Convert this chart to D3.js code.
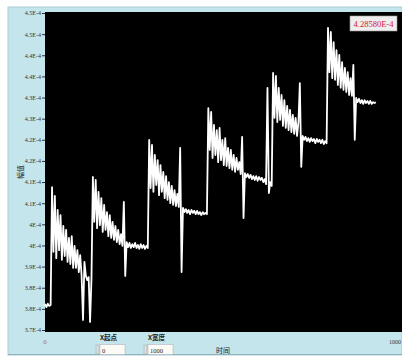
<!DOCTYPE html>
<html>
<head>
<meta charset="utf-8">
<script src="https://cdn.jsdelivr.net/npm/d3@7"></script>
<style>
  body { margin: 0; background: #fff; }
  svg { display: block; }
</style>
</head>
<body>
<div id="chart"></div>
<script>
// amplitude values are in units of 1E-4, one sample every 4 time units
let sampleStep = 4;

let flatStart = [3.812, 3.804, 3.812, 3.807, 3.809];
let pulse1 = [4.088, 3.935, 4.067, 3.920, 4.034, 3.939, 4.022, 3.916, 3.996, 3.925,
              3.987, 3.911, 3.968, 3.906, 3.972, 3.897, 3.949, 3.897, 3.939, 3.887,
              3.927, 3.878, 3.774, 3.911,
              3.878, 3.868, 3.875, 3.769, 3.871];
let pulse2 = [4.112, 4.006, 4.105, 3.991, 4.077, 3.998, 4.062, 3.982, 4.046, 3.987,
              4.029, 3.972, 4.022, 3.968, 4.006, 3.963, 3.996, 3.958, 3.987, 3.953,
              3.977, 3.949, 4.053, 3.878,
              3.958, 3.946, 3.956, 3.944, 3.953, 3.946, 3.956, 3.944, 3.951, 3.942,
              3.953, 3.944, 3.951, 3.942, 3.949, 3.944];
let pulse3 = [4.200, 4.086, 4.188, 4.077, 4.164, 4.093, 4.152, 4.069, 4.140, 4.077,
              4.124, 4.062, 4.114, 4.058, 4.100, 4.050, 4.091, 4.046, 4.081, 4.043,
              4.072, 4.041, 4.181, 3.887,
              4.039, 4.029, 4.036, 4.027, 4.034, 4.024, 4.034, 4.027, 4.032, 4.024,
              4.032, 4.024, 4.029, 4.022, 4.029, 4.024, 4.027, 4.024];
let pulse4 = [4.275, 4.176, 4.266, 4.157, 4.235, 4.164, 4.223, 4.147, 4.228, 4.152,
              4.200, 4.140, 4.204, 4.138, 4.181, 4.133, 4.176, 4.129, 4.164, 4.124,
              4.157, 4.129, 4.147, 4.119, 4.207, 4.015,
              4.121, 4.112, 4.119, 4.110, 4.117, 4.107, 4.114, 4.105, 4.114, 4.103,
              4.112, 4.105, 4.110, 4.100, 4.107, 4.095, 4.323, 4.074, 4.100, 4.091];
let pulse5 = [4.358, 4.252, 4.351, 4.242, 4.323, 4.247, 4.306, 4.233, 4.294, 4.228,
              4.280, 4.223, 4.271, 4.218, 4.259, 4.214, 4.252, 4.209, 4.242, 4.334,
              4.136,
              4.209, 4.200, 4.207, 4.197, 4.204, 4.195, 4.204, 4.197, 4.202, 4.192,
              4.202, 4.195, 4.200, 4.192, 4.200, 4.190, 4.197, 4.192];
let pulse6 = [4.465, 4.360, 4.455, 4.346, 4.431, 4.342, 4.412, 4.330, 4.401, 4.323,
              4.384, 4.318, 4.370, 4.313, 4.360, 4.306, 4.346, 4.304, 4.377, 4.200,
              4.299, 4.289, 4.297, 4.287, 4.294, 4.285, 4.294, 4.287, 4.292, 4.285,
              4.292, 4.285, 4.289, 4.287, 4.289];

let signal = [].concat(flatStart, pulse1, pulse2, pulse3, pulse4, pulse5, pulse6);

let yTickValues = [3.75, 3.80, 3.85, 3.90, 3.95, 4.00, 4.05, 4.10,
                   4.15, 4.20, 4.25, 4.30, 4.35, 4.40, 4.45, 4.50];
let yTickLabels = ["3.7E-4", "3.8E-4", "3.8E-4", "3.9E-4", "4E-4", "4E-4", "4.1E-4", "4.1E-4",
                   "4.2E-4", "4.2E-4", "4.3E-4", "4.3E-4", "4.4E-4", "4.4E-4", "4.5E-4", "4.5E-4"];
let xDomain = [0, 1000];
let readout = "4.28580E-4";
let xStart = "0";
let xWidth = "1000";

let width = 402;
let height = 356;

let svg = d3.select("#chart").append("svg")
    .attr("width", width)
    .attr("height", height);

// panel background
svg.append("rect").attr("x", 8).attr("y", 7).attr("width", width - 8).attr("height", height - 8)
    .attr("fill", "#c3e5eb").attr("stroke", "#a9cdd4").attr("stroke-width", 1);
svg.append("line").attr("x1", 8).attr("x2", width).attr("y1", 354.5).attr("y2", 354.5)
    .attr("stroke", "#8fb4bb");

// plot area
svg.append("rect").attr("x", 45).attr("y", 12).attr("width", width - 45).attr("height", 320)
    .attr("fill", "#000");

let xScale = d3.scaleLinear().domain(xDomain).range([45, 397]);
let yScale = d3.scaleLinear().domain([3.75, 4.50]).range([330, 13]);

let yAxis = d3.axisLeft(yScale)
    .tickValues(yTickValues)
    .tickFormat((d, i) => yTickLabels[i])
    .tickSize(3)
    .tickPadding(1);

let yg = svg.append("g").attr("transform", "translate(45,0)").call(yAxis);
yg.select(".domain").remove();
yg.selectAll("line").attr("stroke", "#333");
yg.selectAll("text")
    .attr("font-family", "Liberation Serif")
    .attr("font-size", 6)
    .attr("fill", "#333");

let lineGenerator = d3.line()
    .x((d, i) => xScale(i * sampleStep))
    .y((d) => yScale(d));

svg.append("path")
    .datum(signal)
    .attr("d", lineGenerator)
    .attr("fill", "none")
    .attr("stroke", "#fff")
    .attr("stroke-width", 1.8)
    .attr("stroke-linejoin", "round");

// axis titles and end labels
svg.append("text").attr("transform", "translate(23,172) rotate(-90)")
    .attr("text-anchor", "middle")
    .attr("font-family", "Noto Sans CJK SC").attr("font-size", 7).attr("fill", "#222")
    .text("幅值");
svg.append("text").attr("x", xScale(xDomain[0])).attr("y", 344)
    .attr("text-anchor", "middle")
    .attr("font-family", "Liberation Serif").attr("font-size", 7).attr("fill", "#b07a3a")
    .text(xDomain[0]);
svg.append("text").attr("x", width - 1).attr("y", 344)
    .attr("text-anchor", "end")
    .attr("font-family", "Liberation Serif").attr("font-size", 6).attr("fill", "#333")
    .text(xDomain[1]);
svg.append("text").attr("x", 223).attr("y", 353)
    .attr("text-anchor", "middle")
    .attr("font-family", "Noto Sans CJK SC").attr("font-size", 7).attr("fill", "#222")
    .text("时间");

// x start / width controls
let controls = [
    {label: "X起点", value: xStart, x: 100, w: 25},
    {label: "X宽度", value: xWidth, x: 148, w: 25}
];
controls.forEach((c) => {
    svg.append("text").attr("x", c.x).attr("y", 340)
        .attr("font-family", "Noto Sans CJK SC").attr("font-size", 6.5)
        .attr("font-weight", "bold").attr("fill", "#222")
        .text(c.label);
    svg.append("rect").attr("x", c.x - 4).attr("y", 345).attr("width", 3).attr("height", 9)
        .attr("fill", "#d8e0e2").attr("stroke", "#9aa").attr("stroke-width", 0.5);
    svg.append("rect").attr("x", c.x).attr("y", 344.5).attr("width", c.w).attr("height", 10)
        .attr("fill", "#fbfbf6").attr("stroke", "#aab").attr("stroke-width", 0.5);
    svg.append("text").attr("x", c.x + 2).attr("y", 352.5)
        .attr("font-family", "Liberation Serif").attr("font-size", 6.5).attr("fill", "#222")
        .text(c.value);
});

// value readout
svg.append("rect").attr("x", 350).attr("y", 16).attr("width", 47).attr("height", 15)
    .attr("fill", "#efeded").attr("stroke", "#999").attr("stroke-width", 0.6);
svg.append("text").attr("x", 373.5).attr("y", 27)
    .attr("text-anchor", "middle")
    .attr("font-family", "Liberation Serif").attr("font-size", 8.5).attr("fill", "#d0203a")
    .text(readout);
</script>
</body>
</html>
